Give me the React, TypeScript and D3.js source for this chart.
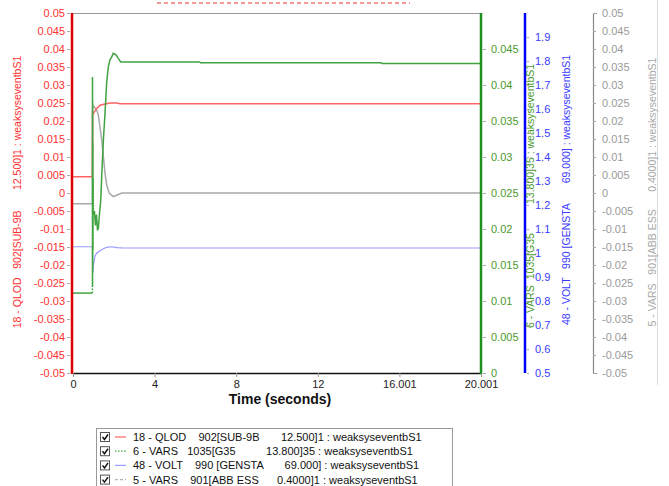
import React from 'react';
import * as d3 from 'd3';

// time axis
const timeTicks = [0, 4, 8, 12, 16.001, 20.001];
const timeTickLabels = ['0', '4', '8', '12', '16.001', '20.001'];

// 18 - QLOD (red, left axis)
const qlodTime = [0, 0.95, 0.96, 1.0, 1.16, 1.32, 1.57, 1.81, 2.14, 2.3, 20.001];
const qlodValue = [0.0045, 0.0045, 0.022, 0.0221, 0.0235, 0.0244, 0.0247, 0.025, 0.025, 0.0248, 0.0248];

// 6 - VARS 1035 (green axis)
const varsGPreTime = [0, 0.95];
const varsGPreValue = [0.0111, 0.0111];
const varsGSpikeTime = [0.95, 0.955, 0.96, 0.965, 0.97, 0.975, 0.98, 0.99, 1.0];
const varsGSpikeValue = [0.0111, 0.0411, 0.012, 0.038, 0.014, 0.032, 0.017, 0.027, 0.022];
const varsGTime = [1.0, 1.05, 1.1, 1.15, 1.2, 1.24, 1.29, 1.36, 1.41, 1.49, 1.57, 1.65, 1.73, 1.81, 1.9, 1.97, 2.11, 2.22, 2.34, 6.2, 6.25, 15.1, 15.15, 20.001];
const varsGValue = [0.022, 0.0225, 0.0205, 0.022, 0.0199, 0.02, 0.0218, 0.024, 0.0275, 0.0324, 0.0361, 0.0403, 0.0425, 0.0435, 0.0439, 0.0444, 0.0442, 0.0437, 0.0432, 0.0432, 0.0431, 0.0431, 0.043, 0.043];

// 48 - VOLT (blue axis)
const voltTime = [0, 0.95, 0.97, 1.0, 1.08, 1.16, 1.32, 1.49, 1.65, 1.9, 2.14, 2.47, 20.001];
const voltValue = [1.026, 1.026, 0.917, 0.95, 0.9875, 0.999, 1.0096, 1.018, 1.0237, 1.026, 1.0221, 1.0208, 1.0208];

// 5 - VARS 901 (gray axis)
const varsATime = [0, 0.95, 0.96, 0.995, 1.16, 1.24, 1.32, 1.41, 1.49, 1.57, 1.65, 1.78, 1.98, 2.22, 2.39, 20.001];
const varsAValue = [-0.003, -0.003, 0.0235, 0.0242, 0.0231, 0.0217, 0.0184, 0.0147, 0.0101, 0.0055, 0.0022, -0.0001, -0.001, -0.0004, 0, 0];

const redTicks = d3.range(-50, 51, 5).map(d => d / 1000);
const greenTicks = d3.range(0, 46, 5).map(d => d / 1000);
const blueTicks = d3.range(5, 20).map(d => d / 10);
const grayTicks = d3.range(-50, 51, 5).map(d => d / 1000);

const axisTitles = [
  '18 - QLOD   902[SUB-9B       12.500]1 : weaksyseventbS1',
  '6 - VARS  1035[G35          13.800]35 : weaksyseventbS1',
  '48 - VOLT   990 [GENSTA       69.000] : weaksyseventbS1',
  '5 - VARS   901[ABB ESS      0.4000]1 : weaksyseventbS1',
];
const legendLabels = [
  '18 - QLOD    902[SUB-9B       12.500]1 : weaksyseventbS1',
  '6 - VARS   1035[G35          13.800]35 : weaksyseventbS1',
  '48 - VOLT    990 [GENSTA       69.000] : weaksyseventbS1',
  '5 - VARS    901[ABB ESS      0.4000]1 : weaksyseventbS1',
];

const FONT = 'Arial, "Liberation Sans", sans-serif';

const App = () => {
  const svgRef = React.useRef(null);
  React.useEffect(() => {
    const width = 669, height = 486;
    const left = 73, right = 481, top = 13, bottom = 373;

    const svg = d3.select(svgRef.current);
    svg.selectAll('*').remove();
    svg.attr('width', width).attr('height', height).style('font-family', FONT);

    const x = d3.scaleLinear().domain([0, 20.001]).range([left, right]);
    const yRed = d3.scaleLinear().domain([-0.05, 0.05]).range([bottom, top]);
    const yGreen = d3.scaleLinear().domain([0, 0.05]).range([bottom, top]);
    const yBlue = d3.scaleLinear().domain([0.5, 2.0]).range([bottom, top]);
    const yGray = d3.scaleLinear().domain([-0.05, 0.05]).range([bottom, top]);

    const fmt = (d) => d3.format('.3~f')(d).replace('\u2212', '-');
    const fmtBlue = (d) => d3.format('.1~f')(d);

    // cropped heading remnant (spell-check underline)
    svg.append('line')
      .attr('x1', 157).attr('x2', 410).attr('y1', 3).attr('y2', 3)
      .attr('stroke', '#e53030').attr('stroke-width', 1.2)
      .attr('stroke-dasharray', '4,3');
    svg.append('line')
      .attr('x1', 657.5).attr('x2', 657.5).attr('y1', 0).attr('y2', 385)
      .attr('stroke', '#dedede');

    // plot frame
    svg.append('line')
      .attr('x1', left).attr('x2', right).attr('y1', top + 0.5).attr('y2', top + 0.5)
      .attr('stroke', '#999');

    svg.append('clipPath').attr('id', 'plotclip')
      .append('rect').attr('x', left).attr('y', top).attr('width', right - left).attr('height', bottom - top);

    const plot = svg.append('g').attr('clip-path', 'url(#plotclip)');

    const mkLine = (ys) => d3.line()
      .x(d => x(d[0]))
      .y(d => ys(d[1]));

    const zip = (a, b) => a.map((t, i) => [t, b[i]]);

    // gray
    plot.append('path')
      .attr('d', mkLine(yGray)(zip(varsATime, varsAValue)))
      .attr('fill', 'none').attr('stroke', '#a8a8a8').attr('stroke-width', 1.5);
    // blue
    plot.append('path')
      .attr('d', mkLine(yBlue)(zip(voltTime, voltValue)))
      .attr('fill', 'none').attr('stroke', '#9a9aff').attr('stroke-width', 1.2);
    // red
    plot.append('path')
      .attr('d', mkLine(yRed)(zip(qlodTime, qlodValue)))
      .attr('fill', 'none').attr('stroke', '#ff6464').attr('stroke-width', 1.5);
    // green
    plot.append('path')
      .attr('d', mkLine(yGreen)(zip(varsGPreTime, varsGPreValue)))
      .attr('fill', 'none').attr('stroke', '#3fa33f').attr('stroke-width', 1.5);
    plot.append('path')
      .attr('d', mkLine(yGreen)(zip(varsGSpikeTime, varsGSpikeValue)))
      .attr('fill', 'none').attr('stroke', '#3fa33f').attr('stroke-width', 1.5)
      .attr('stroke-dasharray', '1.5,1.5');
    plot.append('path')
      .attr('d', mkLine(yGreen)(zip(varsGTime, varsGValue)))
      .attr('fill', 'none').attr('stroke', '#3fa33f').attr('stroke-width', 1.5);

    const styleAxis = (g, textColor, tickColor) => {
      g.selectAll('text').attr('fill', textColor).style('font-size', '11px').style('font-family', FONT);
      g.selectAll('.tick line').attr('stroke', tickColor);
    };

    // x axis
    const xAxis = svg.append('g').attr('transform', `translate(0,${bottom})`)
      .call(d3.axisBottom(x).tickValues(timeTicks)
        .tickFormat((d, i) => timeTickLabels[i]).tickSize(4).tickSizeOuter(0).tickPadding(3));
    xAxis.select('.domain').attr('stroke', '#111').attr('stroke-width', 1.5);
    styleAxis(xAxis, '#222', '#999');

    svg.append('text')
      .attr('x', 280).attr('y', 404)
      .attr('text-anchor', 'middle')
      .style('font-size', '14px').style('font-weight', 'bold')
      .attr('fill', '#111')
      .text('Time (seconds)');

    // red axis (left)
    const redAxis = svg.append('g').attr('transform', 'translate(70,0)')
      .call(d3.axisLeft(yRed).tickValues(redTicks).tickFormat(fmt).tickSize(3).tickPadding(2));
    redAxis.select('.domain').remove();
    styleAxis(redAxis, '#ff3030', '#aaa');
    svg.append('line').attr('x1', 72).attr('x2', 72).attr('y1', top).attr('y2', bottom + 1)
      .attr('stroke', '#dd0000').attr('stroke-width', 2.5);

    // green axis
    svg.append('line').attr('x1', 481).attr('x2', 481).attr('y1', top).attr('y2', bottom + 1)
      .attr('stroke', '#1f8f1f').attr('stroke-width', 2.5);
    const greenAxis = svg.append('g').attr('transform', 'translate(483,0)')
      .call(d3.axisRight(yGreen).tickValues(greenTicks).tickFormat(fmt).tickSize(3).tickPadding(5));
    greenAxis.select('.domain').remove();
    styleAxis(greenAxis, '#4b9a2d', '#aaa');

    // blue axis
    svg.append('line').attr('x1', 525).attr('x2', 525).attr('y1', top).attr('y2', bottom)
      .attr('stroke', '#0000ff').attr('stroke-width', 2.5);
    const blueAxis = svg.append('g').attr('transform', 'translate(527,0)')
      .call(d3.axisRight(yBlue).tickValues(blueTicks).tickFormat(fmtBlue).tickSize(2).tickPadding(6));
    blueAxis.select('.domain').remove();
    styleAxis(blueAxis, '#3a3aff', '#aaa');

    // gray axis
    const grayAxis = svg.append('g').attr('transform', 'translate(593,0)')
      .call(d3.axisRight(yGray).tickValues(grayTicks).tickFormat(fmt).tickSize(3).tickSizeOuter(4).tickPadding(6));
    grayAxis.select('.domain').attr('stroke', '#888').attr('stroke-width', 1.2);
    styleAxis(grayAxis, '#9a9a9a', '#aaa');

    // rotated axis titles
    const titlePos = [[21, 192, '#ff3030'], [534, 196, '#4b9a2d'], [570, 190, '#3a3aff'], [656, 192, '#a8a8a8']];
    axisTitles.forEach((t, i) => {
      const [tx, ty, c] = titlePos[i];
      svg.append('text')
        .attr('transform', `translate(${tx},${ty}) rotate(-90)`)
        .attr('text-anchor', 'middle')
        .attr('fill', c)
        .style('font-size', '10.5px')
        .style('white-space', 'pre')
        .text(t);
    });

    // legend
    const legend = svg.append('g');
    legend.append('rect')
      .attr('x', 96.5).attr('y', 428.5).attr('width', 356).attr('height', 70)
      .attr('fill', '#fff').attr('stroke', '#999');
    const legendColors = ['#ff6464', '#3fa33f', '#9a9aff', '#b0b0b0'];
    const legendDash = [null, '1.5,1.5', null, '3,2'];
    legendLabels.forEach((lbl, i) => {
      const cy = 437 + i * 14.2;
      legend.append('rect')
        .attr('x', 100.5).attr('y', cy - 4.5).attr('width', 9).attr('height', 9)
        .attr('fill', '#fff').attr('stroke', '#555');
      legend.append('path')
        .attr('d', `M${102.5},${cy} L${104.5},${cy + 2.5} L${108},${cy - 2.5}`)
        .attr('fill', 'none').attr('stroke', '#111').attr('stroke-width', 1.5);
      legend.append('line')
        .attr('x1', 115).attr('x2', 126).attr('y1', cy).attr('y2', cy)
        .attr('stroke', legendColors[i]).attr('stroke-width', 1.2)
        .attr('stroke-dasharray', legendDash[i]);
      legend.append('text')
        .attr('x', 133).attr('y', cy + 4)
        .attr('fill', '#111')
        .style('font-size', '11px')
        .style('white-space', 'pre')
        .text(lbl);
    });
  }, []);

  return (
    <svg ref={svgRef} style={{ position: 'absolute', left: 0, top: 0, background: '#fff' }} />
  );
};

export default App;
